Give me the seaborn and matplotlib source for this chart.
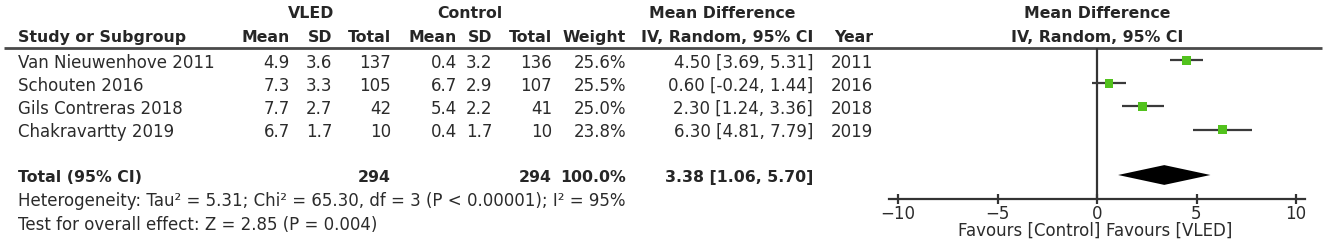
import numpy as np
import pandas as pd
import matplotlib
matplotlib.use("Agg")
import matplotlib.pyplot as plt
from matplotlib.patches import Polygon
import seaborn as sns

sns.set_style("white")
plt.rcParams['font.family'] = ['DejaVu Sans']

##########################################################################
# data

studies = ["Van Nieuwenhove 2011", "Schouten 2016", "Gils Contreras 2018", "Chakravartty 2019"]
vled_mean = [4.9, 7.3, 7.7, 6.7]
vled_sd = [3.6, 3.3, 2.7, 1.7]
vled_n = [137, 105, 42, 10]
ctrl_mean = [0.4, 6.7, 5.4, 0.4]
ctrl_sd = [3.2, 2.9, 2.2, 1.7]
ctrl_n = [136, 107, 41, 10]
weight = [25.6, 25.5, 25.0, 23.8]
md = [4.50, 0.60, 2.30, 6.30]
md_lo = [3.69, -0.24, 1.24, 4.81]
md_hi = [5.31, 1.44, 3.36, 7.79]
years = [2011, 2016, 2018, 2019]

total_vled = 294
total_ctrl = 294
total_weight = 100.0
pooled = 3.38
pooled_lo = 1.06
pooled_hi = 5.70

heterogeneity = "Heterogeneity: Tau² = 5.31; Chi² = 65.30, df = 3 (P < 0.00001); I² = 95%"
overall = "Test for overall effect: Z = 2.85 (P = 0.004)"
axis_ticks = [-10, -5, 0, 5, 10]

##########################################################################
W, H = 1325, 246
fig = plt.figure(figsize=(W / 100, H / 100), dpi=100)

def row_of(px):
    # pixel height -> row units (row 0 = first study)
    return (px - 60.5) / 23.0

ylim = (row_of(H), row_of(0))
fs = 12      # regular text
fsb = 11.3   # bold text
txt = '#2b2b2b'

tab = fig.add_axes([0, 0, 1, 1])
tab.set_xlim(0, W)
tab.set_ylim(*ylim)
tab.axis('off')

# column right edges (px)
cols = {'vm': 290, 'vs': 332, 'vn': 391, 'cm': 457, 'cs': 492, 'cn': 552,
        'w': 626, 'ci': 813, 'yr': 873}

# headers
hb1 = row_of(18)
hb2 = row_of(42)
tab.text(311, hb1, "VLED", ha='center', va='baseline', fontsize=fsb, fontweight='bold')
tab.text(470, hb1, "Control", ha='center', va='baseline', fontsize=fsb, fontweight='bold')
tab.text(722, hb1, "Mean Difference", ha='center', va='baseline', fontsize=fsb, fontweight='bold')
tab.text(18, hb2, "Study or Subgroup", ha='left', va='baseline', fontsize=fsb, fontweight='bold')
for key, lab in [('vm', 'Mean'), ('vs', 'SD'), ('vn', 'Total'), ('cm', 'Mean'),
                 ('cs', 'SD'), ('cn', 'Total'), ('w', 'Weight'),
                 ('ci', 'IV, Random, 95% CI'), ('yr', 'Year')]:
    tab.text(cols[key], hb2, lab, ha='right', va='baseline', fontsize=fsb, fontweight='bold')

tab.plot([4, 1322], [row_of(48.5)] * 2, color='#4a4a4a', lw=2.0, solid_capstyle='butt')

# study rows
for i in range(len(studies)):
    yb = i + 0.32
    vals = [('vm', f"{vled_mean[i]:.1f}"), ('vs', f"{vled_sd[i]:.1f}"), ('vn', str(vled_n[i])),
            ('cm', f"{ctrl_mean[i]:.1f}"), ('cs', f"{ctrl_sd[i]:.1f}"), ('cn', str(ctrl_n[i])),
            ('w', f"{weight[i]:.1f}%"),
            ('ci', f"{md[i]:.2f} [{md_lo[i]:.2f}, {md_hi[i]:.2f}]"),
            ('yr', str(years[i]))]
    tab.text(18, yb, studies[i], ha='left', va='baseline', fontsize=fs, color=txt)
    for key, s in vals:
        tab.text(cols[key], yb, s, ha='right', va='baseline', fontsize=fs, color=txt)

# total row
tb = row_of(182)
tab.text(18, tb, "Total (95% CI)", ha='left', va='baseline', fontsize=fsb, fontweight='bold')
tab.text(cols['vn'], tb, str(total_vled), ha='right', va='baseline', fontsize=fsb, fontweight='bold')
tab.text(cols['cn'], tb, str(total_ctrl), ha='right', va='baseline', fontsize=fsb, fontweight='bold')
tab.text(cols['w'], tb, f"{total_weight:.1f}%", ha='right', va='baseline', fontsize=fsb, fontweight='bold')
tab.text(cols['ci'], tb, f"{pooled:.2f} [{pooled_lo:.2f}, {pooled_hi:.2f}]", ha='right',
         va='baseline', fontsize=fsb, fontweight='bold')
tab.text(18, row_of(206), heterogeneity, ha='left', va='baseline', fontsize=fs, color=txt)
tab.text(18, row_of(230), overall, ha='left', va='baseline', fontsize=fs, color=txt)

##########################################################################
# forest panel
x0_px, ppu = 1097, 19.9
fa = fig.add_axes([860 / W, 0, (W - 860) / W, 1])
fa.patch.set_alpha(0)

df = pd.DataFrame({'md': md, 'lo': md_lo, 'hi': md_hi, 'row': np.arange(len(md)), 'w': weight})
fa.hlines(df['row'], df['lo'], df['hi'], color='#3a3a3a', lw=1.6, zorder=2)
sns.scatterplot(data=df, x='md', y='row', marker='s', s=38, color='#52c21d',
                edgecolor='none', linewidth=0, ax=fa, legend=False, zorder=3)

axis_row = row_of(199)
total_row = row_of(175)
dh = 0.43
fa.add_patch(Polygon([[pooled_lo, total_row], [pooled, total_row - dh],
                      [pooled_hi, total_row], [pooled, total_row + dh]],
                     closed=True, color='black', lw=0, zorder=3))

fa.vlines(0, row_of(48.5), axis_row, color='#333333', lw=1.6, zorder=1)

fa.set_xlim((860 - x0_px) / ppu, (W - x0_px) / ppu)
fa.set_ylim(*ylim)
fa.set_xlabel('')
fa.set_ylabel('')
fa.set_yticks([])
for sp in ['top', 'right', 'left']:
    fa.spines[sp].set_visible(False)
fa.spines['bottom'].set_position(('data', axis_row))
fa.spines['bottom'].set_bounds(-10.45, 10.45)
fa.spines['bottom'].set_color('#333333')
fa.spines['bottom'].set_linewidth(1.6)
fa.set_xticks(axis_ticks)
fa.set_xticklabels([str(t).replace('-', '\u2212') for t in axis_ticks])
fa.tick_params(axis='x', direction='inout', length=7, width=1.6, pad=1,
               labelsize=fs, colors='#333333', labelcolor=txt, bottom=True)

fa.text(0, hb1, "Mean Difference", ha='center', va='baseline', fontsize=fsb, fontweight='bold')
fa.text(0, hb2, "IV, Random, 95% CI", ha='center', va='baseline', fontsize=fsb, fontweight='bold')
fb = row_of(236)
fa.text(0.15, fb, "Favours [Control]", ha='right', va='baseline', fontsize=fs, color=txt)
fa.text(0.45, fb, "Favours [VLED]", ha='left', va='baseline', fontsize=fs, color=txt)

plt.savefig('out.png', dpi=100)
